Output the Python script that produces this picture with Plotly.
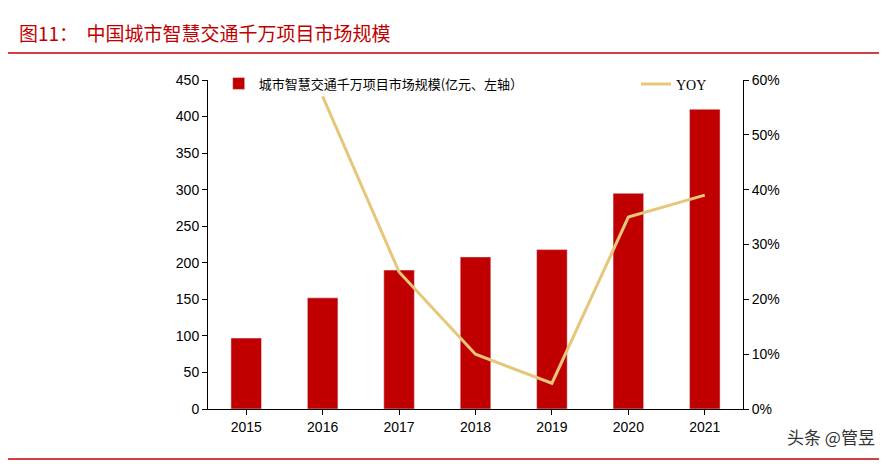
import plotly.graph_objects as go

years = ["2015", "2016", "2017", "2018", "2019", "2020", "2021"]
scale = [97, 152, 190, 208, 218, 295, 410]
yoy_years = ["2016", "2017", "2018", "2019", "2020", "2021"]
yoy = [0.57, 0.25, 0.10, 0.047, 0.35, 0.39]

font = "Noto Sans CJK SC"

fig = go.Figure()
fig.add_trace(go.Bar(x=years, y=scale, name="城市智慧交通千万项目市场规模(亿元、左轴）",
                     marker_color="#C00000", width=0.4, legend="legend"))
fig.add_trace(go.Scatter(x=yoy_years, y=yoy, name="YOY", yaxis="y2", mode="lines",
                         line=dict(color="#E6C77A", width=3), legend="legend2"))

fig.update_layout(
    width=887, height=464,
    paper_bgcolor="white", plot_bgcolor="white",
    margin=dict(l=200, r=152, t=72, b=63),
    font=dict(family=font, size=14, color="black"),
    showlegend=True,
    legend=dict(x=0.02, y=1.035, xanchor="left", yanchor="top",
                font=dict(size=13), bgcolor="rgba(0,0,0,0)"),
    legend2=dict(x=0.8, y=1.035, xanchor="left", yanchor="top",
                 font=dict(family="Liberation Serif", size=14), bgcolor="rgba(0,0,0,0)"),
    xaxis=dict(showline=True, linecolor="black", ticks="outside", tickcolor="black",
               ticklen=5, tickfont=dict(family="Liberation Sans", size=14)),
    yaxis=dict(range=[0, 450], dtick=50, showline=True, linecolor="black",
               ticks="outside", tickcolor="black", showgrid=False,
               tickfont=dict(family="Liberation Sans", size=14)),
    yaxis2=dict(range=[0, 0.6], dtick=0.1, tickformat=".0%", overlaying="y", side="right",
                showline=True, linecolor="black", ticks="outside", tickcolor="black",
                showgrid=False, tickfont=dict(family="Liberation Sans", size=14)),
    bargap=0.5,
)

fig.add_annotation(text="图11：  中国城市智慧交通千万项目市场规模", xref="paper", yref="paper",
                   x=-0.357, y=1.143, xanchor="left", yanchor="middle", showarrow=False,
                   font=dict(family=font, size=19, color="#C00000"))
fig.add_shape(type="line", xref="paper", yref="paper", x0=-0.374, x1=1.284, y0=1.082, y1=1.082,
              line=dict(color="#C00000", width=1.5))
fig.add_shape(type="line", xref="paper", yref="paper", x0=-0.374, x1=1.284, y0=-0.152, y1=-0.152,
              line=dict(color="#C00000", width=1.5))
fig.add_annotation(text="头条 @管昱", xref="paper", yref="paper", x=1.25, y=-0.085,
                   xanchor="right", yanchor="middle", showarrow=False,
                   font=dict(family=font, size=17, color="#333333"))

fig.write_html("out.html")
